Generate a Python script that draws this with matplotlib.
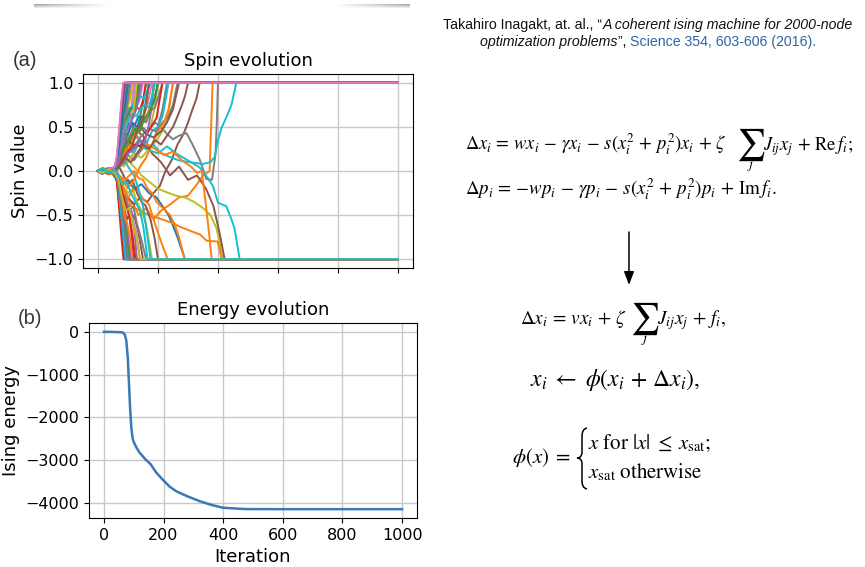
import numpy as np
import matplotlib
matplotlib.use("Agg")
import matplotlib.pyplot as plt
from matplotlib.path import Path
from matplotlib.patches import PathPatch

plt.rcParams['mathtext.fontset'] = 'stix'
plt.rcParams['font.family'] = 'DejaVu Sans'

# ---------------- data ----------------
energy_iter = [0, 20, 40, 62, 70, 75, 80, 84, 88, 92, 96, 100, 110, 120, 140, 157, 175, 196,
               220, 241, 280, 320, 360, 398, 440, 476, 600, 800, 1000]
energy_val = [0, 0, -5, -10, -60, -200, -600, -1200, -1800, -2250, -2480, -2580, -2720, -2830,
              -2990, -3100, -3290, -3450, -3620, -3725, -3850, -3960, -4050, -4115, -4135,
              -4148, -4150, -4150, -4150]

spin_paths = [
    [(0,0),(12,-.03),(30,.02),(50,-.04),(62,-.1),(72,-.35),(80,-.6),(86,-.85),(92,-1),(1000,-1)],
    [(0,0),(15,.02),(35,-.04),(55,-.02),(70,-.12),(85,-.3),(100,-.42),(115,-.35),(135,-.5),(160,-.42),(185,-.55),(210,-.45),(240,-.38),(270,-.3),(300,-.28),(330,-.15),(350,-.05),(372,0),(377,.5),(382,1),(1000,1)],
    [(0,0),(15,-.02),(35,.03),(55,.01),(66,.12),(75,.35),(82,.55),(88,.7),(95,1),(1000,1)],
    [(0,0),(10,.02),(30,-.03),(50,.02),(63,-.12),(72,-.4),(80,-.7),(90,-1),(1000,-1)],
    [(0,0),(20,.03),(40,-.02),(58,.05),(67,.2),(75,.5),(82,.8),(88,1),(1000,1)],
    [(0,0),(15,-.03),(35,.02),(55,-.02),(70,-.08),(85,-.2),(100,-.3),(120,-.38),(140,-.3),(165,-.35),(185,-.25),(206,-.17),(225,0),(245,.12),(265,.3),(285,.42),(300,.55),(315,.7),(328,.82),(339,1),(1000,1)],
    [(0,0),(15,.02),(35,-.02),(55,.03),(68,.15),(78,.4),(86,.55),(94,.5),(102,.7),(110,.68),(120,1),(1000,1)],
    [(0,0),(15,.02),(35,-.03),(55,.02),(70,.1),(85,.25),(100,.35),(120,.42),(145,.5),(165,.45),(190,.55),(210,.5),(230,.42),(250,.36),(270,.4),(295,.43),(315,.3),(339,.13),(361,-.09),(380,-.1),(392,.2),(396,.55),(400,1),(1000,1)],
    [(0,0),(15,-.02),(35,.03),(55,-.01),(70,.08),(85,.18),(100,.12),(120,.05),(145,-.05),(170,-.12),(200,-.2),(228,-.24),(260,-.28),(290,-.3),(320,-.35),(350,-.42),(375,-.5),(395,-.65),(405,-.8),(415,-1),(1000,-1)],
    [(0,0),(30,.03),(60,-.02),(80,.1),(100,.2),(130,.3),(160,.25),(185,.3),(206,.21),(239,.16),(270,.12),(306,.10),(349,.08),(375,.1),(389,.16),(400,.35),(412,.49),(428,.61),(445,.75),(461,1),(1000,1)],
    [(0,0),(15,.02),(35,-.02),(55,.02),(70,-.05),(85,-.15),(100,-.1),(120,-.2),(145,-.15),(170,-.25),(195,-.3),(215,-.4),(235,-.5),(250,-.62),(265,-.75),(278,-.88),(290,-1),(1000,-1)],
    [(0,0),(15,.02),(35,-.02),(55,.02),(70,-.05),(90,-.25),(110,-.4),(140,-.45),(170,-.5),(206,-.54),(240,-.58),(272,-.63),(316,-.69),(340,-.72),(362,-.79),(399,-.8),(412,-1),(1000,-1)],
    [(0,0),(12,-.03),(32,.02),(52,-.02),(64,.1),(74,.35),(82,.6),(92,1),(1000,1)],
    [(0,0),(15,.03),(35,-.02),(55,.02),(68,.12),(76,.3),(84,.5),(92,.62),(100,.58),(108,.72),(116,.7),(124,.82),(135,1),(1000,1)],
    [(0,0),(15,-.02),(35,.02),(55,-.03),(66,-.12),(75,-.35),(84,-.6),(90,-.8),(95,-1),(1000,-1)],
    [(0,0),(15,.02),(35,-.02),(55,.02),(70,.05),(90,.1),(110,.3),(130,.45),(150,.4),(180,.2),(210,.1),(240,-.05),(270,.05),(300,-.1),(330,-.05),(360,-.2),(385,-.4),(405,-.7),(422,-1),(1000,-1)],
    [(0,0),(10,.02),(30,-.02),(50,.03),(62,.1),(70,.35),(78,.7),(86,1),(1000,1)],
    [(0,0),(15,-.02),(35,.02),(55,.03),(70,.1),(85,.22),(100,.18),(120,.12),(140,.22),(160,.3),(180,.28),(200,.5),(215,.7),(230,1),(1000,1)],
    [(0,0),(15,.02),(35,-.03),(55,.02),(70,-.05),(85,-.18),(100,-.25),(115,-.2),(130,-.35),(145,-.45),(160,-.6),(170,-.8),(180,-1),(1000,-1)],
    [(0,0),(30,-.02),(60,.03),(80,.1),(100,.3),(130,.4),(160,.25),(200,.2),(230,.28),(260,.2),(300,.12),(339,.04),(360,-.05),(383,-.17),(400,-.36),(428,-.4),(445,-.55),(455,-.65),(465,-.85),(472,-1),(1000,-1)],
    [(0,0),(15,.03),(35,-.01),(55,.02),(65,.12),(74,.4),(82,.7),(90,1),(1000,1)],
    [(0,0),(15,-.02),(35,.02),(55,-.03),(70,-.08),(85,-.2),(100,-.3),(115,-.22),(130,-.2),(150,-.32),(170,-.38),(190,-.6),(210,-.8),(232,-1),(1000,-1)],
    [(0,0),(15,.02),(35,-.02),(55,.01),(68,-.08),(78,-.3),(86,-.5),(93,-.7),(100,-1),(1000,-1)],
    [(0,0),(15,-.03),(35,.02),(55,.04),(63,.15),(71,.45),(78,.75),(85,1),(1000,1)],
    [(0,0),(15,.02),(35,-.03),(55,.02),(67,.1),(76,.3),(84,.45),(92,.55),(100,.75),(110,1),(1000,1)],
    [(0,0),(15,-.02),(35,.03),(55,-.02),(68,-.1),(78,-.3),(88,-.42),(98,-.38),(110,-.55),(120,-.5),(135,-.7),(150,-1),(1000,-1)],
    [(0,0),(15,.02),(35,-.03),(55,.03),(64,-.1),(72,-.4),(80,-.72),(88,-1),(1000,-1)],
    [(0,0),(15,-.02),(35,.02),(55,-.02),(66,.08),(76,.3),(84,.5),(92,.72),(100,1),(1000,1)],
    [(0,0),(15,.03),(35,-.02),(55,.02),(70,.05),(85,.15),(100,.1),(115,.18),(130,.3),(145,.26),(160,.4),(175,.5),(188,.7),(200,1),(1000,1)],
    [(0,0),(15,-.02),(35,.03),(55,0),(70,.06),(85,.15),(100,.25),(120,.2),(140,.35),(160,.3),(180,.45),(200,.5),(215,.62),(225,.8),(235,1),(1000,1)],
    [(0,0),(15,.02),(35,-.02),(55,.03),(68,.12),(80,.3),(92,.45),(105,.55),(120,.5),(135,.62),(150,.6),(160,.8),(170,1),(1000,1)],
    [(0,0),(15,-.02),(35,.03),(55,.02),(70,.08),(85,.2),(100,.25),(120,.4),(140,.35),(165,.3),(190,.25),(220,.18),(250,.22),(280,.12),(310,.05),(330,-.02),(346,0),(360,-.4),(370,-.7),(379,-1),(1000,-1)],
    [(0,0),(15,.02),(35,-.02),(55,.03),(68,.1),(78,.3),(88,.45),(98,.4),(108,.55),(118,.62),(128,.75),(140,1),(1000,1)],
    [(0,0),(15,-.03),(35,.02),(55,-.02),(67,-.1),(77,-.3),(87,-.42),(96,-.55),(104,-.5),(112,-.72),(120,-1),(1000,-1)],
    [(0,0),(15,.02),(35,-.03),(55,.02),(66,.12),(75,.38),(84,.6),(95,1),(1000,1)],
    [(0,0),(15,.02),(35,-.02),(55,.02),(70,.05),(85,-.05),(100,-.15),(115,-.1),(130,-.25),(145,-.35),(160,-.4),(175,-.55),(188,-.75),(200,-1),(1000,-1)],
    [(0,0),(15,-.02),(35,.02),(55,.03),(68,.12),(80,.35),(90,.5),(100,.45),(112,.6),(125,.7),(138,.8),(150,1),(1000,1)],
    [(0,0),(15,.02),(35,-.02),(55,-.03),(68,-.1),(80,-.25),(92,-.3),(105,-.45),(118,-.4),(130,-.6),(145,-.78),(160,-1),(1000,-1)],
    [(0,0),(15,-.03),(35,.02),(55,.01),(70,.1),(85,.05),(100,.12),(120,.2),(145,.15),(170,.25),(195,.35),(215,.45),(235,.65),(250,1),(1000,1)],
    [(0,0),(15,.02),(35,-.02),(55,.02),(70,.1),(85,.15),(100,.05),(120,-.05),(135,-.2),(150,-.4),(163,-.7),(175,-1),(1000,-1)],
    [(0,0),(15,-.02),(35,.02),(55,-.02),(64,-.12),(73,-.4),(82,-.7),(90,-1),(1000,-1)],
    [(0,0),(15,.02),(35,-.02),(55,.03),(70,-.05),(90,-.1),(105,-.05),(120,0),(135,-.08),(150,-.1),(165,-.2),(180,-.25),(195,-.35),(210,-.4),(225,-.45),(240,-.5),(255,-.6),(270,-.75),(289,-1),(1000,-1)],
    [(0,0),(15,-.02),(35,.03),(55,-.01),(68,.08),(80,.22),(92,.35),(105,.32),(118,.48),(130,.45),(142,.65),(152,.8),(160,1),(1000,1)],
    [(0,0),(15,.03),(35,-.02),(55,.02),(63,-.12),(71,-.45),(78,-.75),(85,-1),(1000,-1)],
    [(0,0),(15,.02),(35,-.03),(55,.01),(67,-.08),(78,-.25),(90,-.35),(102,-.5),(112,-.45),(122,-.7),(130,-1),(1000,-1)],
    [(0,0),(15,-.03),(35,.02),(55,.02),(64,.14),(72,.42),(80,.72),(90,1),(1000,1)],
    [(0,0),(15,.02),(35,-.02),(55,.03),(70,.1),(82,.25),(95,.38),(108,.35),(120,.5),(135,.48),(150,.62),(165,.75),(180,1),(1000,1)],
    [(0,0),(15,-.02),(35,.02),(55,0),(70,.05),(85,.12),(100,.2),(120,.28),(145,.4),(170,.48),(195,.45),(215,.55),(235,.62),(250,.75),(265,1),(1000,1)],
    [(0,0),(15,.03),(35,-.02),(55,.02),(68,.08),(80,.2),(95,.3),(110,.25),(125,.4),(140,.5),(155,.62),(170,1),(1000,1)],
    [(0,0),(15,-.02),(35,.03),(55,-.02),(65,-.1),(74,-.38),(83,-.68),(92,-1),(1000,-1)],
    [(0,0),(15,.02),(35,-.02),(55,.02),(70,.12),(85,.3),(100,.42),(115,.55),(130,.5),(145,.62),(160,.58),(175,.7),(188,.8),(200,1),(1000,1)],
    [(0,0),(15,-.02),(35,.03),(55,-.01),(70,-.05),(85,-.12),(100,-.2),(120,-.1),(140,.05),(160,.15),(180,.3),(200,.45),(220,.55),(235,.7),(250,1),(1000,1)],
    [(0,0),(15,.02),(35,-.02),(55,.01),(68,-.1),(78,-.3),(88,-.5),(96,-.7),(105,-1),(1000,-1)],
    [(0,0),(15,-.02),(35,.02),(55,.03),(68,.15),(80,.4),(92,.55),(104,.62),(116,.6),(128,.72),(140,.7),(150,.8),(160,1),(1000,1)],
    [(0,0),(15,.02),(35,-.02),(55,-.01),(68,-.08),(78,-.28),(88,-.45),(98,-.65),(110,-1),(1000,-1)],
    [(0,0),(15,.02),(35,-.03),(55,.02),(70,.05),(85,.2),(100,.3),(120,.45),(140,.5),(160,.42),(185,.38),(210,.45),(230,.55),(250,.7),(270,1),(1000,1)],
    [(0,0),(15,.02),(35,-.02),(55,.02),(66,.12),(76,.35),(86,.5),(96,.62),(106,.6),(116,.78),(125,1),(1000,1)],
    [(0,0),(15,-.02),(35,.02),(55,.01),(68,.1),(80,.25),(92,.4),(104,.38),(118,.5),(132,.45),(146,.58),(160,.55),(175,.68),(190,.72),(202,.85),(215,1),(1000,1)],
    [(0,0),(15,.02),(35,-.02),(55,.03),(66,.15),(76,.42),(86,.6),(96,.68),(106,.8),(115,1),(1000,1)],
    [(0,0),(15,-.03),(35,.02),(55,.02),(68,.18),(78,.45),(88,.6),(98,.72),(108,.68),(118,.76),(128,.74),(140,.85),(152,.82),(163,.9),(175,1),(1000,1)],
    [(0,0),(15,.02),(35,-.02),(55,.02),(67,-.1),(77,-.35),(87,-.62),(94,-.8),(100,-1),(1000,-1)],
    [(0,0),(15,.02),(35,-.03),(55,.02),(70,.08),(85,.2),(100,.32),(115,.45),(130,.42),(145,.55),(160,.6),(172,.72),(182,.85),(190,1),(1000,1)],
    [(0,0),(15,-.02),(35,.02),(55,.03),(67,.12),(77,.38),(88,.55),(98,.62),(110,.72),(120,.7),(130,.85),(140,1),(1000,1)],
    [(0,0),(15,.02),(35,-.02),(55,.02),(70,.06),(85,.15),(100,.22),(120,.3),(140,.28),(160,.4),(180,.52),(195,.6),(205,.8),(215,1),(1000,1)],
    [(0,0),(15,-.02),(35,.02),(55,-.01),(70,.05),(85,.1),(100,.2),(120,.25),(140,.35),(155,.32),(168,.5),(178,.7),(185,1),(1000,1)],
    [(0,0),(15,.02),(35,-.02),(55,.02),(70,.1),(85,.25),(100,.35),(115,.3),(130,.45),(145,.55),(158,.7),(170,1),(1000,1)],
    [(0,0),(15,-.02),(35,.02),(55,-.02),(68,-.1),(80,-.28),(92,-.4),(104,-.5),(116,-.55),(128,-.7),(140,-1),(1000,-1)],
    [(0,0),(15,.02),(35,-.02),(55,.02),(66,.1),(76,.32),(85,.5),(95,.7),(105,1),(1000,1)],
    [(0,0),(15,-.02),(35,.02),(55,.02),(68,.1),(78,.28),(88,.45),(100,.58),(110,.55),(120,.72),(130,1),(1000,1)],
    [(0,0),(15,.02),(35,-.02),(55,.02),(68,.1),(80,.3),(92,.5),(104,.6),(116,.65),(128,.62),(140,.7),(155,.75),(170,.72),(180,.85),(190,1),(1000,1)],
    [(0,0),(15,-.02),(35,.02),(55,.03),(66,.15),(75,.4),(84,.62),(92,.78),(100,1),(1000,1)],
    [(0,0),(15,.02),(35,-.02),(55,.01),(67,-.1),(78,-.3),(88,-.5),(98,-.6),(106,-.75),(115,-1),(1000,-1)],
    [(0,0),(15,.02),(35,-.02),(55,.02),(68,.1),(80,.22),(95,.3),(110,.4),(125,.48),(140,.45),(155,.6),(170,.65),(185,.78),(200,1),(1000,1)],
    [(0,0),(15,-.02),(35,.02),(55,-.01),(68,-.08),(80,-.22),(92,-.38),(104,-.5),(114,-.7),(125,-1),(1000,-1)],
    [(0,0),(15,.02),(35,-.02),(55,.02),(68,.1),(80,.32),(92,.45),(104,.5),(116,.62),(128,.7),(136,.85),(145,1),(1000,1)],
    [(0,0),(15,-.02),(35,.02),(55,.01),(70,.05),(90,.15),(110,.1),(130,.2),(150,.3),(170,.25),(190,.35),(210,.3),(230,.4),(250,.5),(265,.62),(280,.75),(290,.85),(300,1),(1000,1)],
    [(0,0),(15,-.02),(35,.02),(55,.04),(62,.15),(70,.45),(77,.75),(84,1),(1000,1)],
    [(0,0),(15,.02),(35,-.02),(55,.02),(66,-.1),(76,-.35),(86,-.6),(93,-.78),(100,-1),(1000,-1)],
    [(0,0),(15,-.02),(35,.02),(55,-.02),(68,-.1),(80,-.3),(92,-.45),(104,-.42),(116,-.6),(128,-.75),(140,-1),(1000,-1)],
    [(0,0),(15,.03),(35,-.02),(55,.01),(68,-.05),(80,-.15),(95,-.12),(110,-.25),(125,-.35),(140,-.45),(152,-.65),(165,-1),(1000,-1)],
]

x_ticks = [0, 200, 400, 600, 800, 1000]
spin_ticks = [-1.0, -0.5, 0.0, 0.5, 1.0]
energy_ticks = [0, -1000, -2000, -3000, -4000]

citation_line1 = [("Takahiro Inagakt, at. al., \u201c", "normal", "#111111"),
                  ("A coherent ising machine for 2000-node", "italic", "#111111")]
citation_line2 = [("optimization problems", "italic", "#111111"),
                  ("\u201d, ", "normal", "#111111"),
                  ("Science 354, 603-606 (2016).", "normal", "#2a66a8")]

# ---------------- figure ----------------
W, H = 865, 567
fig = plt.figure(figsize=(W / 100, H / 100), dpi=100)

grid_kw = dict(color='#c8c8c8', lw=1.0)

# (a) spin evolution
ax1 = fig.add_axes([83 / W, 1 - 268 / H, 330 / W, 194 / H])
for path in spin_paths:
    t, v = zip(*path)
    ax1.plot(t, v, lw=1.4)
ax1.set_xlim(-50, 1050)
ax1.set_ylim(-1.1, 1.1)
ax1.set_xticks(x_ticks)
ax1.set_xticklabels([])
ax1.set_yticks(spin_ticks)
ax1.tick_params(labelsize=11.5)
ax1.grid(True, **grid_kw)
ax1.set_axisbelow(True)
ax1.set_title('Spin evolution', fontsize=13)
ax1.set_ylabel('Spin value', fontsize=13)

# (b) energy evolution
ax2 = fig.add_axes([89 / W, 1 - 518 / H, 328 / W, 195 / H])
ax2.plot(energy_iter, energy_val, color='#3a78b8', lw=1.8)
ax2.set_xlim(-50, 1050)
ax2.set_ylim(-4357, 207)
ax2.set_xticks(x_ticks)
ax2.set_yticks(energy_ticks)
ax2.tick_params(labelsize=11.5)
ax2.grid(True, **grid_kw)
ax2.set_axisbelow(True)
ax2.set_title('Energy evolution', fontsize=13)
ax2.set_ylabel('Ising energy', fontsize=13)
ax2.set_xlabel('Iteration', fontsize=13)

# overlay in pixel coordinates
ov = fig.add_axes([0, 0, 1, 1], zorder=5)
ov.set_xlim(0, W)
ov.set_ylim(H, 0)
ov.axis('off')
ov.patch.set_alpha(0)

# top decorative shadow bar
bar = fig.add_axes([34 / W, 1 - 8 / H, 376 / W, 4 / H], zorder=1)
xs = np.linspace(0, 1, 376)
dist = np.minimum(xs, 1 - xs)
alpha = np.clip(1 - dist / 0.2, 0, 1) * 0.75
rows = np.array([1.0, 0.8, 0.5, 0.25])[:, None]
rgba = np.zeros((4, 376, 4))
rgba[..., :3] = 0.55
rgba[..., 3] = rows * alpha[None, :]
bar.imshow(rgba, aspect='auto', interpolation='bilinear')
bar.axis('off')

ov.text(25, 61, '(a)', fontsize=14.5, family='Liberation Sans', color='#333333',
        ha='center', va='center')
ov.text(30, 318, '(b)', fontsize=14.5, family='Liberation Sans', color='#3a3a3a',
        ha='center', va='center')

renderer = fig.canvas.get_renderer()


def centred_line(pieces, xc, y, size):
    arts = []
    for txt, style, col in pieces:
        a = ov.text(0, y, txt, fontsize=size, family='Liberation Sans', style=style,
                    color=col, ha='left', va='baseline')
        arts.append(a)
    widths = [a.get_window_extent(renderer).width for a in arts]
    x = xc - sum(widths) / 2
    for a, w in zip(arts, widths):
        a.set_x(x)
        x += w


centred_line(citation_line1, 648, 29, 10.2)
centred_line(citation_line2, 648, 46, 10.2)


def fitted_text(x, y, s, width, size=14):
    """text whose font size is chosen so that it spans the given width"""
    t = ov.text(x, y, s, fontsize=size, ha='left', va='baseline')
    w = t.get_window_extent(renderer).width
    t.set_fontsize(size * width / w)
    return t


def sum_equation(x, y, left, right, left_width, sum_x, right_x, sum_size):
    """left part, display-size sum with j underneath, right part"""
    t = fitted_text(x, y, left, left_width)
    size = t.get_fontsize()
    s = ov.text(sum_x, y - 5, r'$\sum$', fontsize=sum_size, ha='left', va='center')
    ext = s.get_window_extent(renderer)
    ov.text(sum_x + ext.width / 2, y + 18, r'$j$', fontsize=size * 0.75, ha='center',
            va='baseline')
    ov.text(right_x, y, right, fontsize=size, ha='left', va='baseline')


# equations
eq1_left = (r'$\Delta x_i \,=\, w x_i \,-\, \gamma x_i \,-\, s(x_i^2 \,+\, p_i^2)x_i'
            r' \,+\, \zeta$')
eq1_right = r'$J_{ij} x_j \,+\, \mathrm{Re}\,f_i;$'
eq2 = (r'$\Delta p_i \,=\, {-}w p_i \,-\, \gamma p_i \,-\, s(x_i^2 \,+\, p_i^2)p_i \,+\, '
       r'\mathrm{Im}\,f_i.$')
eq3_left = r'$\Delta x_i \,=\, v x_i \,+\, \zeta$'
eq3_right = r'$J_{ij} x_j \,+\, f_i,$'
eq4 = r'$x_i \;\leftarrow\; \phi(x_i \,+\, \Delta x_i),$'
eq5a = r'$\phi(x) \;=$'
eq5b = r'$x\ \mathrm{for}\ |x| \;\leq\; x_{\mathrm{sat}};$'
eq5c = r'$x_{\mathrm{sat}}\ \mathrm{otherwise}$'

sum_equation(465, 150, eq1_left, eq1_right, 262, 736, 763, 23)
fitted_text(465, 195, eq2, 312)
sum_equation(520, 324, eq3_left, eq3_right, 107, 630, 657, 23)
ov.text(530, 386, eq4, fontsize=17, ha='left', va='baseline')
ov.text(512, 463, eq5a, fontsize=15, ha='left', va='baseline')
ov.text(588, 449, eq5b, fontsize=15, ha='left', va='baseline')
ov.text(588, 478, eq5c, fontsize=15, ha='left', va='baseline')

# curly brace of the cases
bx, btop, bmid, bbot = 582, 428, 458, 489
brace_verts = [(bx + 5, btop), (bx + 1, btop + 1), (bx, btop + 4), (bx, btop + 9),
               (bx, bmid - 6),
               (bx, bmid - 2), (bx - 2, bmid), (bx - 5, bmid),
               (bx - 2, bmid), (bx, bmid + 2), (bx, bmid + 6),
               (bx, bbot - 9),
               (bx, bbot - 4), (bx + 1, bbot - 1), (bx + 5, bbot)]
brace_codes = [Path.MOVETO, Path.CURVE4, Path.CURVE4, Path.CURVE4,
               Path.LINETO,
               Path.CURVE4, Path.CURVE4, Path.CURVE4,
               Path.CURVE4, Path.CURVE4, Path.CURVE4,
               Path.LINETO,
               Path.CURVE4, Path.CURVE4, Path.CURVE4]
ov.add_patch(PathPatch(Path(brace_verts, brace_codes), fill=False, lw=1.1, color='black'))

# arrow
ov.annotate('', xy=(629, 285), xytext=(629, 232),
            arrowprops=dict(arrowstyle='-|>,head_width=0.3,head_length=0.8',
                            color='black', lw=1.1, shrinkA=0, shrinkB=0))

fig.savefig('out.png', dpi=100)
